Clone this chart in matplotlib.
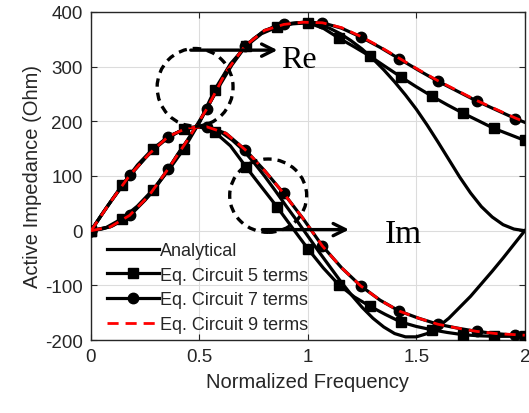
import matplotlib
matplotlib.use("Agg")
import matplotlib.pyplot as plt
from matplotlib.patches import Ellipse

# ---------------- data ----------------
f_an = [0.00, 0.05, 0.10, 0.15, 0.20, 0.25, 0.30, 0.35, 0.40, 0.45,
        0.50, 0.55, 0.60, 0.65, 0.70, 0.75, 0.80, 0.85, 0.90, 0.95,
        1.00, 1.05, 1.10, 1.15, 1.20, 1.25, 1.30, 1.35, 1.40, 1.45,
        1.50, 1.55, 1.60, 1.65, 1.70, 1.75, 1.80, 1.85, 1.90, 1.95, 2.00]
re_an = [0, 3, 9, 20, 36, 56, 80, 108, 140, 168,
         198, 235, 270, 303, 330, 351, 365, 374, 378, 380,
         380, 377, 370, 360, 347, 332, 314, 294, 272, 248,
         222, 193, 162, 130, 98, 69, 44, 25, 11, 3, 0]
im_an = [0, 30, 58, 85, 110, 133, 152, 168, 180, 188,
         191, 188, 180, 166, 148, 125, 100, 73, 45, 18,
         -10, -38, -65, -92, -117, -140, -160, -176, -188, -194,
         -194, -188, -176, -160, -140, -120, -97, -74, -50, -25, 0]

f_5 = [0.000, 0.071, 0.143, 0.214, 0.286, 0.357, 0.429, 0.500, 0.571, 0.643,
       0.714, 0.786, 0.857, 0.929, 1.000, 1.071, 1.143, 1.214, 1.286, 1.357,
       1.429, 1.500, 1.571, 1.643, 1.714, 1.786, 1.857, 1.929, 2.000]
re_5 = [0, 6, 22, 45, 75, 110, 150, 198, 258, 305,
        337, 360, 372, 378, 380, 370, 352, 336, 319, 300,
        281, 263, 246, 230, 215, 201, 187, 176, 165]
im_5 = [0, 42, 83, 120, 150, 172, 185, 190, 180, 155,
        117, 80, 44, 5, -33, -68, -99, -121, -138, -153,
        -167, -175, -181, -186, -190, -192, -193, -193, -192]

f_7 = [0.000, 0.089, 0.178, 0.267, 0.356, 0.444, 0.533, 0.622, 0.711, 0.800,
       0.889, 0.978, 1.067, 1.156, 1.244, 1.333, 1.422, 1.511, 1.600, 1.689,
       1.778, 1.867, 1.956, 2.000]
re_7 = [0, 7, 28, 64, 113, 165, 222, 290, 338, 366,
        377, 381, 380, 370, 354, 335, 314, 293, 273, 255,
        237, 221, 205, 198]
im_7 = [0, 52, 101, 140, 172, 188, 190, 178, 148, 110,
        68, 22, -28, -68, -101, -127, -147, -160, -171, -178,
        -184, -188, -191, -192]

f_9 = f_7
re_9 = [0, 7, 28, 64, 113, 165, 222, 290, 338, 366,
        377, 381, 380, 371, 355, 336, 315, 294, 274, 256,
        238, 222, 206, 199]
im_9 = [0, 52, 101, 140, 172, 188, 190, 178, 148, 110,
        68, 22, -28, -68, -101, -127, -147, -160, -171, -178,
        -184, -188, -190, -191]

labels = ["Analytical", "Eq. Circuit 5 terms", "Eq. Circuit 7 terms", "Eq. Circuit 9 terms"]
xticks = [0, 0.5, 1, 1.5, 2]
xticklabels = ["0", "0.5", "1", "1.5", "2"]
yticks = [-200, -100, 0, 100, 200, 300, 400]

# ---------------- figure ----------------
plt.rcParams['font.family'] = ['Liberation Sans', 'DejaVu Sans']
plt.rcParams['axes.unicode_minus'] = False
fig = plt.figure(figsize=(5.29, 4.14), dpi=100)
ax = fig.add_axes([0.172, 0.176, 0.820, 0.793])

lw = 2.3
ax.plot(f_an, re_an, color='black', lw=lw, label=labels[0], zorder=3)
ax.plot(f_an, im_an, color='black', lw=lw, zorder=3)

m5 = list(range(0, len(f_5), 2))
ax.plot(f_5, re_5, color='black', lw=lw, marker='s', ms=6.5, markevery=m5,
        label=labels[1], zorder=4)
ax.plot(f_5, im_5, color='black', lw=lw, marker='s', ms=6.5, markevery=m5, zorder=4)

m7 = list(range(0, 23, 2))
ax.plot(f_7, re_7, color='black', lw=lw, marker='o', ms=7.5, markevery=m7,
        label=labels[2], zorder=5)
ax.plot(f_7, im_7, color='black', lw=lw, marker='o', ms=7.5, markevery=m7, zorder=5)

ax.plot(f_9, re_9, color='red', lw=2.0, ls=(0, (4, 2.5)), label=labels[3], zorder=6)
ax.plot(f_9, im_9, color='red', lw=2.0, ls=(0, (4, 2.5)), zorder=6)

# annotations
ax.add_patch(Ellipse((0.48, 262), 0.35, 142, fill=False, ls=(0, (2.5, 1.8)),
                     lw=2.4, color='black', zorder=7))
ax.add_patch(Ellipse((0.817, 64), 0.355, 134, fill=False, ls=(0, (2.5, 1.8)),
                     lw=2.4, color='black', zorder=7))
ax.annotate("", xy=(0.86, 330), xytext=(0.46, 330),
            arrowprops=dict(arrowstyle='->', lw=2.4, color='black',
                            mutation_scale=22, shrinkA=0, shrinkB=0), zorder=8)
ax.annotate("", xy=(1.19, 2), xytext=(0.79, 2),
            arrowprops=dict(arrowstyle='->', lw=2.4, color='black',
                            mutation_scale=22, shrinkA=0, shrinkB=0), zorder=8)
ax.text(0.875, 312, "Re", family=['Liberation Serif'], fontsize=23,
        ha='left', va='center', zorder=9)
ax.text(1.355, -5, "Im", family=['Liberation Serif'], fontsize=24,
        ha='left', va='center', zorder=9)

ax.set_xlim(0, 2)
ax.set_ylim(-200, 400)
ax.set_xticks(xticks)
ax.set_xticklabels(xticklabels)
ax.set_yticks(yticks)
ax.grid(True, color='#dcdcdc', lw=0.8)
ax.set_axisbelow(True)
ax.tick_params(direction='in', length=4, width=0.8, top=True, right=True,
               labelsize=13.5, colors='#262626', pad=6)
for s in ax.spines.values():
    s.set_color('#262626')
    s.set_linewidth(1.0)
ax.set_xlabel("Normalized Frequency", fontsize=14.5, color='#262626', labelpad=5)
ax.set_ylabel("Active Impedance (Ohm)", fontsize=14.5, color='#262626', labelpad=2)

leg = ax.legend(loc='lower left', frameon=False, fontsize=13, handlelength=2.9,
                handletextpad=0.05, labelspacing=0.42, borderaxespad=0.0,
                bbox_to_anchor=(0.02, 0.0))
for t in leg.get_texts():
    t.set_color('#262626')

fig.savefig("out.png", dpi=100)
